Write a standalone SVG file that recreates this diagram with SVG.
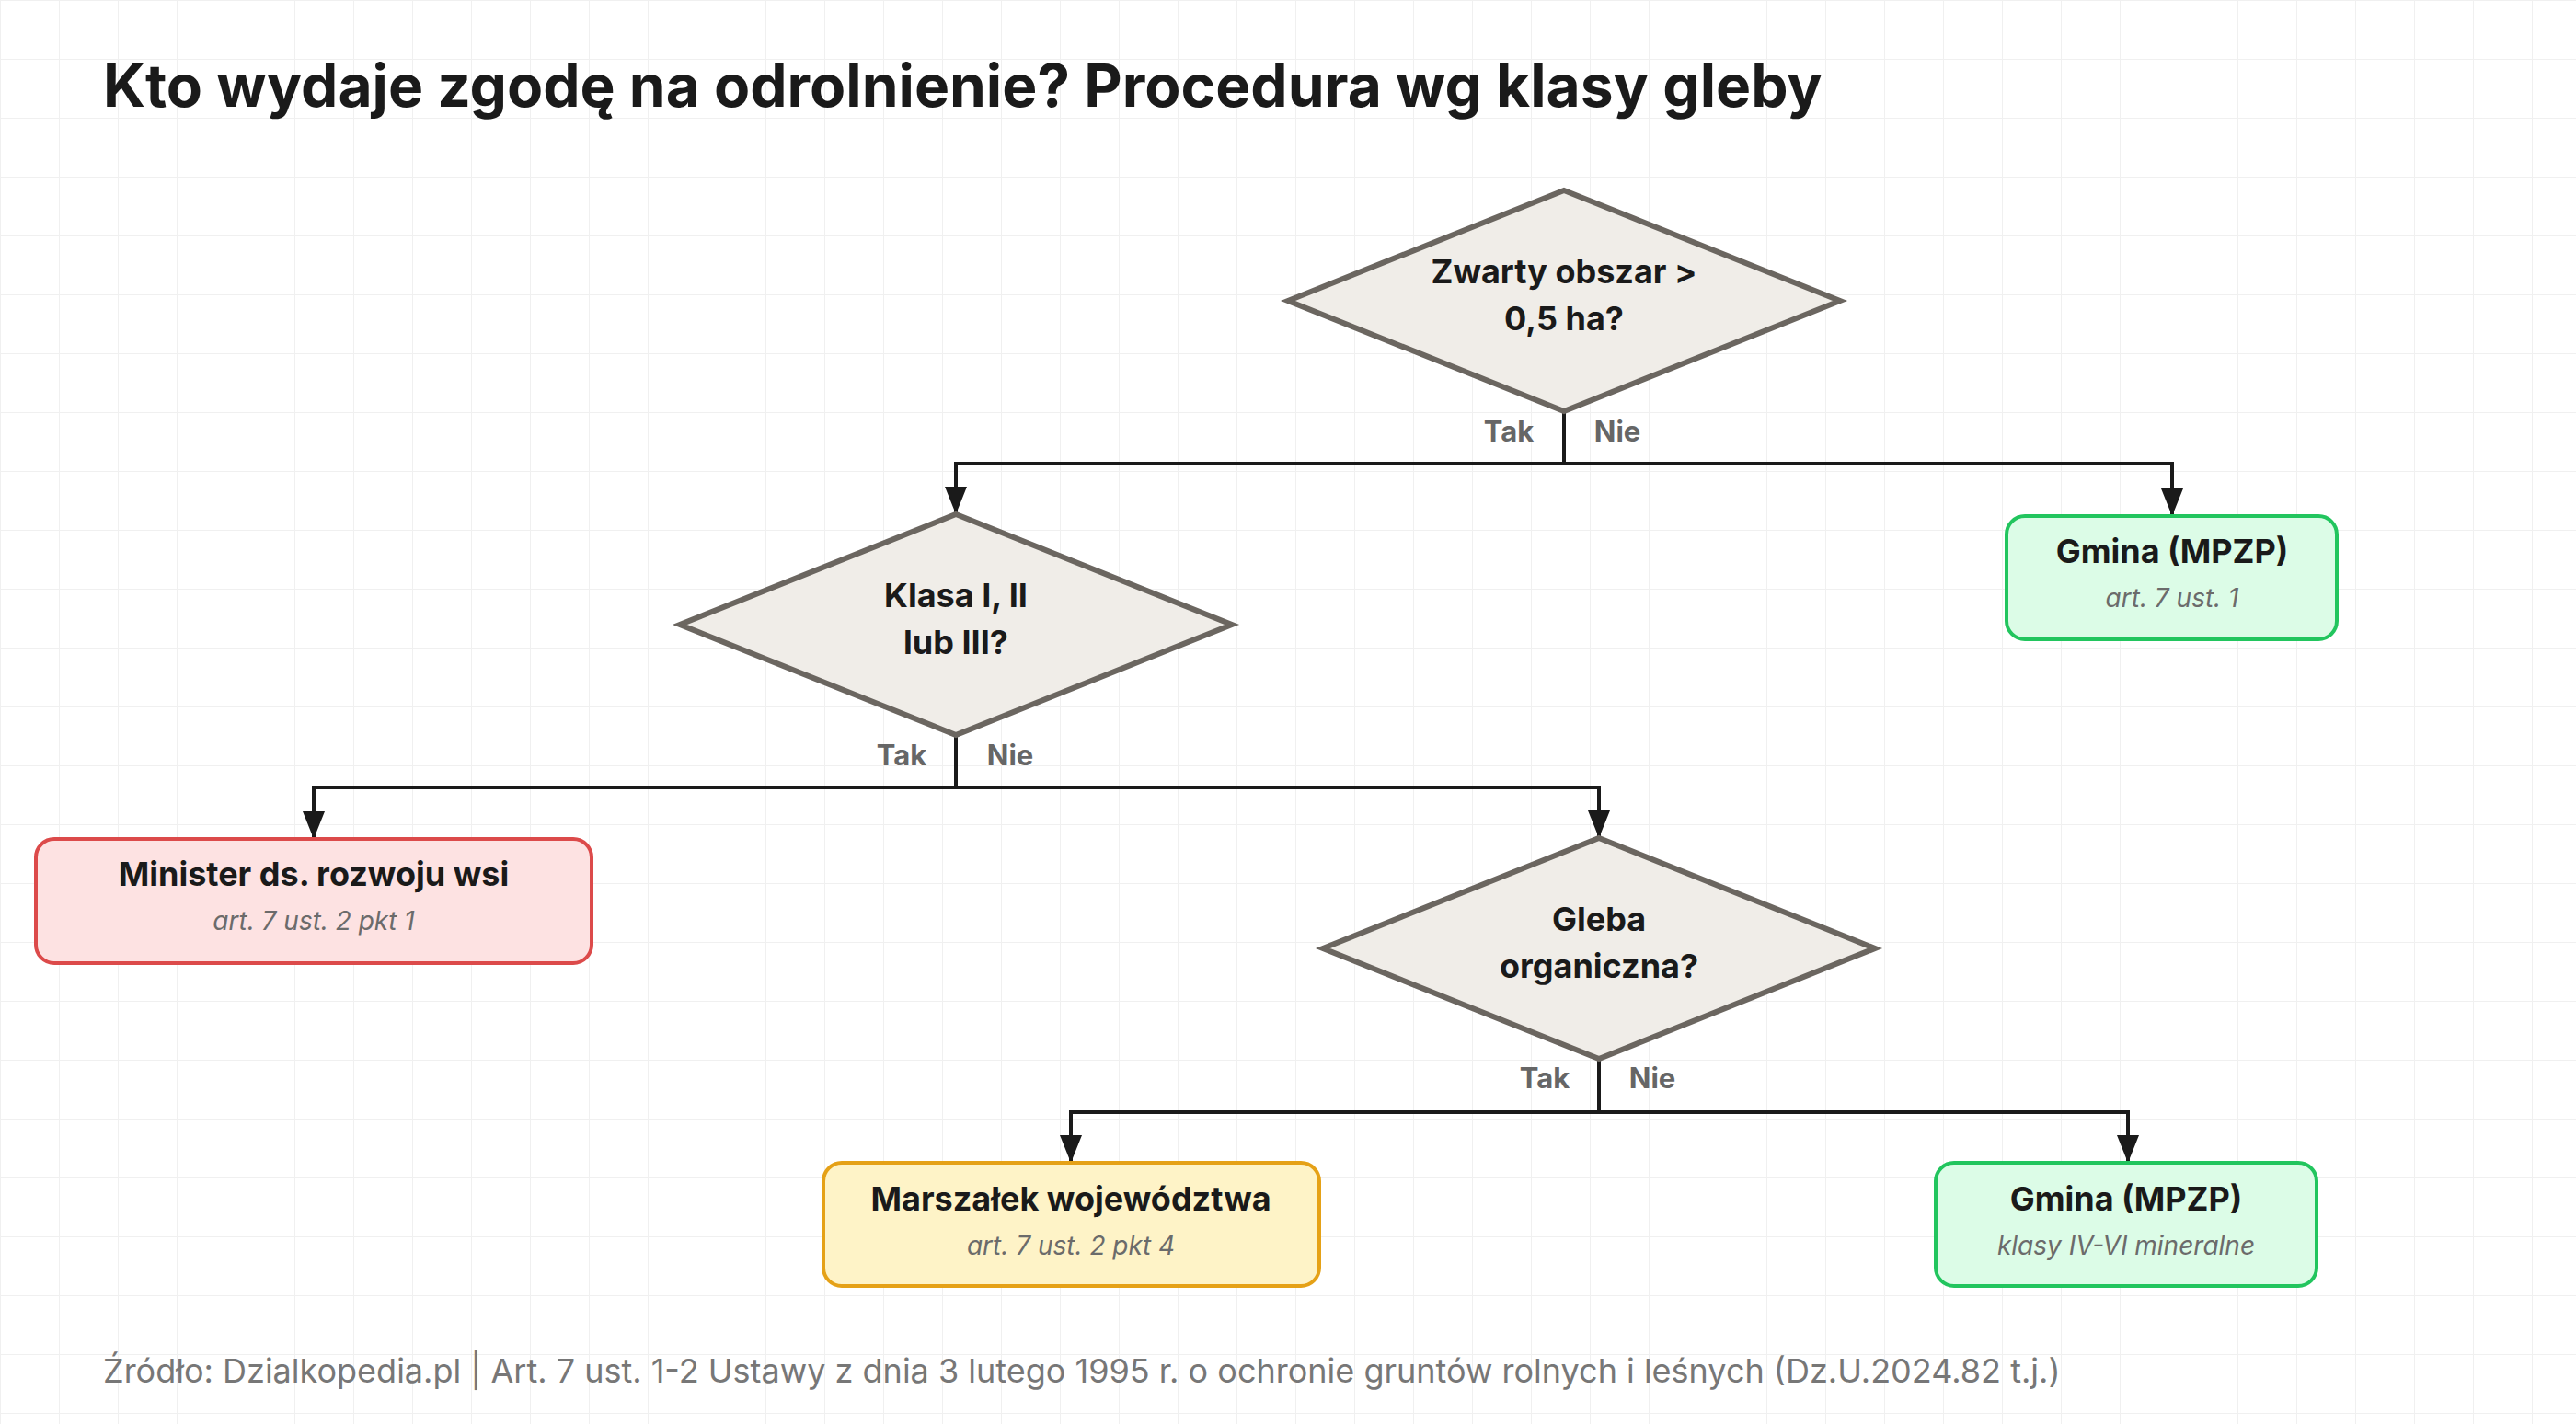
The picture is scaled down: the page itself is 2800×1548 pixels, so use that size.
<svg xmlns="http://www.w3.org/2000/svg" width="2800" height="1548" viewBox="0 0 2800 1548">
<style>
text{font-family:Inter,"Liberation Sans",sans-serif}
.t{font-size:64px;font-weight:700;fill:#1a1a1a}
.q{font-size:36px;font-weight:700;fill:#1a1a1a;text-anchor:middle}
.s{font-size:28px;font-style:italic;fill:#6b6b6b;text-anchor:middle}
.l{font-size:31px;font-weight:700;fill:#666;text-anchor:middle}
.d{fill:#f0ede8;stroke:#6b6660;stroke-width:6}
.c{fill:none;stroke:#1a1a1a;stroke-width:4}
.f{font-size:36px;fill:#777}
</style>
<defs>
<pattern id="g" width="64" height="64" patternUnits="userSpaceOnUse"><path d="M64 0H0V64" fill="none" stroke="#f0f0f0" stroke-width="2"/></pattern>
<marker id="a" markerWidth="10" markerHeight="14" refX="10" refY="7" orient="auto" markerUnits="userSpaceOnUse" viewBox="0 0 10 14"><path d="M0 0L10 7L0 14z" fill="#1a1a1a"/></marker>
<marker id="ah" viewBox="0 0 30 24" refX="30" refY="12" markerWidth="30" markerHeight="24" orient="auto" markerUnits="userSpaceOnUse"><path d="M0 0L30 12L0 24z" fill="#1a1a1a"/></marker>
</defs>
<rect width="2800" height="1548" fill="#fff"/>
<rect width="2800" height="1548" fill="url(#g)"/>
<text class="t" x="112" y="116">Kto wydaje zgodę na odrolnienie? Procedura wg klasy gleby</text>
<g id="connectors">
<path class="c" d="M1700 447V504H1039V559" marker-end="url(#ah)"/>
<path class="c" d="M1700 504H2361V561" marker-end="url(#ah)"/>
<path class="c" d="M1039 799V856H341V912" marker-end="url(#ah)"/>
<path class="c" d="M1039 856H1738V911" marker-end="url(#ah)"/>
<path class="c" d="M1738 1151V1209H1164V1264" marker-end="url(#ah)"/>
<path class="c" d="M1738 1209H2313V1264" marker-end="url(#ah)"/>
<text class="l" x="1640" y="480">Tak</text><text class="l" x="1758" y="480">Nie</text>
<text class="l" x="980" y="832">Tak</text><text class="l" x="1098" y="832">Nie</text>
<text class="l" x="1679" y="1183">Tak</text><text class="l" x="1796" y="1183">Nie</text>
</g>
<g id="q1"><path class="d" d="M1700 207L2000 327L1700 447L1400 327Z"/><text class="q" x="1700" y="308">Zwarty obszar &gt;</text><text class="q" x="1700" y="359">0,5 ha?</text></g>
<g id="q2"><path class="d" d="M1039 559L1339 679L1039 799L739 679Z"/><text class="q" x="1039" y="660">Klasa I, II</text><text class="q" x="1039" y="711">lub III?</text></g>
<g id="q3"><path class="d" d="M1738 911L2038 1031L1738 1151L1438 1031Z"/><text class="q" x="1738" y="1012">Gleba</text><text class="q" x="1738" y="1063">organiczna?</text></g>
<g id="gmina1"><rect x="2181" y="561" width="359" height="134" rx="20" fill="#dcfce7" stroke="#22c55e" stroke-width="4"/><text class="q" x="2361" y="612">Gmina (MPZP)</text><text class="s" x="2361" y="660">art. 7 ust. 1</text></g>
<g id="minister"><rect x="39" y="912" width="604" height="135" rx="20" fill="#fde2e2" stroke="#dc4a4a" stroke-width="4"/><text class="q" x="341" y="963">Minister ds. rozwoju wsi</text><text class="s" x="341" y="1011">art. 7 ust. 2 pkt 1</text></g>
<g id="marszalek"><rect x="895" y="1264" width="539" height="134" rx="20" fill="#fef3c7" stroke="#e5a117" stroke-width="4"/><text class="q" x="1164" y="1316">Marszałek województwa</text><text class="s" x="1164" y="1364">art. 7 ust. 2 pkt 4</text></g>
<g id="gmina2"><rect x="2104" y="1264" width="414" height="134" rx="20" fill="#dcfce7" stroke="#22c55e" stroke-width="4"/><text class="q" x="2311" y="1316">Gmina (MPZP)</text><text class="s" x="2311" y="1364">klasy IV-VI mineralne</text></g>
<text class="f" x="112" y="1503">Źródło: Dzialkopedia.pl | Art. 7 ust. 1-2 Ustawy z dnia 3 lutego 1995 r. o ochronie gruntów rolnych i leśnych (Dz.U.2024.82 t.j.)</text>
</svg>
